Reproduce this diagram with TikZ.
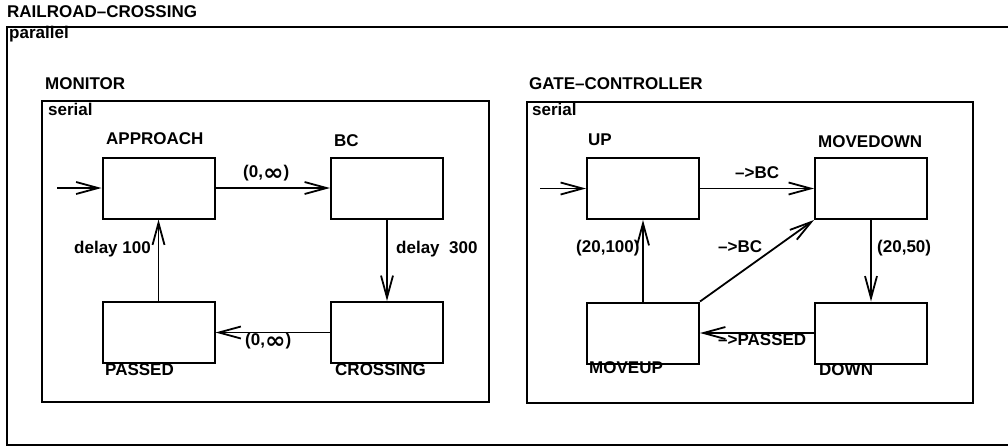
\documentclass[tikz,border=0pt]{standalone}
\usepackage{fontspec}
\usepackage{graphicx}
\setmainfont{Liberation Sans}
\newfontfamily\symfont{DejaVu Sans}
\usetikzlibrary{arrows.meta}
\newcommand\infsym{\raisebox{-3.5pt}{\scalebox{1.45}[1.35]{\symfont\bfseries ∞}}}
\begin{document}
\begin{tikzpicture}[x=1pt,y=-1pt,
  every node/.style={font=\fontsize{17}{20}\selectfont\bfseries},
  lbl/.style={anchor=base west,inner sep=0pt},
  statebox/.style={draw,line width=2pt,minimum width=112pt,minimum height=61pt,inner sep=0pt},
  container/.style={draw,line width=2.2pt},
  trans/.style={line width=1.8pt,-{Straight Barb[length=22pt,width=12pt]}}]
\useasboundingbox (0,0) rectangle (1008,447);
% outer parallel box
\draw[container] (1012,27) -- (7,27) -- (7,445) -- (1012,445);
\node[lbl] (title) at (7,17) {RAILROAD--CROSSING};
\node[lbl] (par) at (9,38.5) {parallel};
% containers
\draw[container] (42,101) rectangle (489,402);
\draw[container] (527,102) rectangle (973,403);
\node[lbl] (monitor) at (45,89) {MONITOR};
\node[lbl] (ser1) at (48,115) {serial};
\node[lbl] (gate) at (529,89) {GATE--CONTROLLER};
\node[lbl] (ser2) at (532,115) {serial};
% monitor states
\node[statebox] (approach) at (158.5,188) {};
\node[statebox] (bc) at (387,188) {};
\node[statebox] (passed) at (158.5,332.5) {};
\node[statebox] (crossing) at (387,332.5) {};
\node[lbl] (lapproach) at (106,144) {APPROACH};
\node[lbl] (lbc) at (334,146) {BC};
\node[lbl] (lpassed) at (105,375) {PASSED};
\node[lbl] (lcrossing) at (335,375) {CROSSING};
\coordinate (m0) at (57,188);
\draw[trans] (m0) -- (approach);
\draw[trans] (approach) -- (bc);
\draw[trans] (bc) -- (crossing);
\draw[trans] (crossing) -- (passed);
\draw[trans] (passed) -- (approach);
\node[lbl] (t1) at (243,177) {(0,\infsym)};
\node[lbl] (t2) at (396,253) {delay\ \ 300};
\node[lbl] (t3) at (245,345) {(0,\infsym)};
\node[lbl] (t4) at (74,253) {delay 100};
% gate controller states
\node[statebox] (up) at (643,188.5) {};
\node[statebox] (movedown) at (871,188.5) {};
\node[statebox] (moveup) at (643,333) {};
\node[statebox] (down) at (871,333) {};
\node[lbl] (lup) at (588,145) {UP};
\node[lbl] (lmovedown) at (818,147) {MOVEDOWN};
\node[lbl] (lmoveup) at (589,373) {MOVEUP};
\node[lbl] (ldown) at (819,375) {DOWN};
\coordinate (g0) at (540,188.5);
\draw[trans] (g0) -- (up);
\draw[trans] (up) -- (movedown);
\draw[trans] (movedown) -- (down);
\draw[trans] (down) -- (moveup);
\draw[trans] (moveup) -- (up);
\draw[trans] (moveup.north east) -- (movedown.south west);
\node[lbl] (u1) at (735,178) {--{>}BC};
\node[lbl] (u2) at (877,252) {(20,50)};
\node[lbl] (u3) at (718,345) {--{>}PASSED};
\node[lbl] (u4) at (576,252) {(20,100)};
\node[lbl] (u5) at (718,252) {--{>}BC};
\end{tikzpicture}
\end{document}
